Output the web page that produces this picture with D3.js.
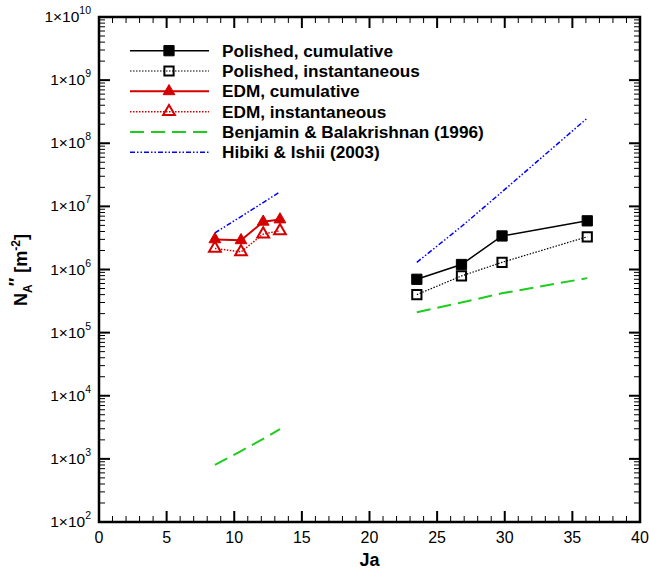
<!DOCTYPE html>
<html><head><meta charset="utf-8">
<script src="https://cdn.jsdelivr.net/npm/d3@7"></script>
<style>body{margin:0;background:#fff}svg{display:block}text{font-family:"Liberation Sans",Arial,sans-serif}</style>
</head><body>
<svg id="c" width="649" height="573"></svg>
<script>
// ---- data ----
const polishedJa = [23.5, 26.8, 29.8, 36.1];
const polishedCum = [7.0e5, 1.2e6, 3.4e6, 5.9e6];
const polishedInst = [4.0e5, 7.9e5, 1.3e6, 3.3e6];
const edmJa = [8.57, 10.5, 12.14, 13.38];
const edmCum = [3.0e6, 2.9e6, 5.7e6, 6.2e6];
const edmInst = [2.16e6, 1.9e6, 3.64e6, 4.1e6];
const benjaminLeft = [800, 1330, 2080, 2960];
const benjaminRight = [2.1e5, 3.0e5, 4.2e5, 7.3e5];
const hibikiLeft = [3.8e6, 6.9e6, 1.15e7, 1.7e7];
const hibikiRight = [1.3e6, 4.8e6, 1.7e7, 2.5e8];
const xTicks = [0, 5, 10, 15, 20, 25, 30, 35, 40];
const yExps = [2, 3, 4, 5, 6, 7, 8, 9, 10];
const legendLabels = ["Polished, cumulative", "Polished, instantaneous", "EDM, cumulative",
  "EDM, instantaneous", "Benjamin & Balakrishnan (1996)", "Hibiki & Ishii (2003)"];

const svg = d3.select("#c");
const L = 99, R = 640, T = 17, B = 522;
const x = d3.scaleLinear().domain([0, 40]).range([L, R]);
const y = d3.scaleLog().domain([1e2, 1e10]).range([B, T]);
const RED = "#d40000", GREEN = "#1fcc1f", BLUE = "#0000ff";

// ---- ticks ----
const tg = svg.append("g");
const minorX = d3.range(0, 41, 1).filter(v => v % 5 !== 0);
function tick(x1, y1, x2, y2, w) {
  tg.append("line").attr("x1", x1).attr("y1", y1).attr("x2", x2).attr("y2", y2)
    .attr("stroke", "#000").attr("stroke-width", w);
}
minorX.forEach(v => { tick(x(v), B, x(v), B - 6, 1); tick(x(v), T, x(v), T + 6, 1); });
xTicks.forEach(v => { tick(x(v), B, x(v), B - 11, 2); tick(x(v), T, x(v), T + 11, 2); });
const minorY = [];
for (let e = 2; e < 10; e++) for (let m = 2; m <= 9; m++) minorY.push(m * Math.pow(10, e));
minorY.forEach(v => { tick(L, y(v), L + 6, y(v), 1); tick(R, y(v), R - 6, y(v), 1); });
yExps.forEach(e => { const v = Math.pow(10, e); tick(L, y(v), L + 11, y(v), 2); tick(R, y(v), R - 11, y(v), 2); });

// frame
svg.append("rect").attr("x", L).attr("y", T).attr("width", R - L).attr("height", B - T)
  .attr("fill", "none").attr("stroke", "#000").attr("stroke-width", 2.5);

// tick labels
svg.append("g").selectAll("text").data(xTicks).join("text")
  .attr("x", d => x(d)).attr("y", 543).attr("text-anchor", "middle")
  .attr("font-size", 16).text(d => d);
const yl = svg.append("g").selectAll("text").data(yExps).join("text")
  .attr("x", 91).attr("y", d => y(Math.pow(10, d)) + 5).attr("text-anchor", "end").attr("font-size", 15.5);
yl.append("tspan").text("1×10");
yl.append("tspan").attr("font-size", 10.5).attr("dy", -8).text(d => d);

// axis titles
svg.append("text").attr("x", x(20)).attr("y", 566).attr("text-anchor", "middle")
  .attr("font-size", 18).attr("font-weight", "bold").text("Ja");
const yt = svg.append("text").attr("transform", "translate(27,270) rotate(-90)")
  .attr("text-anchor", "middle").attr("font-size", 18).attr("font-weight", "bold");
yt.append("tspan").text("N");
yt.append("tspan").attr("font-size", 12).attr("dy", 5).text("A");
yt.append("tspan").attr("dy", -10).attr("dx", -2).text("″");
yt.append("tspan").attr("dy", 5).text(" [m");
yt.append("tspan").attr("font-size", 12).attr("dy", -7).text("-2");
yt.append("tspan").attr("dy", 7).text("]");

// ---- series ----
const line = d3.line().x(d => x(d[0])).y(d => y(d[1]));
function drawLine(xs, ys, color, width, dash) {
  svg.append("path").datum(d3.zip(xs, ys)).attr("d", line).attr("fill", "none")
    .attr("stroke", color).attr("stroke-width", width).attr("stroke-dasharray", dash || null);
}
drawLine(edmJa, benjaminLeft, GREEN, 2, "14,7");
drawLine(polishedJa, benjaminRight, GREEN, 2, "14,7");
drawLine(edmJa, hibikiLeft, BLUE, 1.5, "5,2,1.5,2,1.5,2");
drawLine(polishedJa, hibikiRight, BLUE, 1.5, "5,2,1.5,2,1.5,2");
drawLine(polishedJa, polishedInst, "#000", 1.2, "1.5,1.5");
drawLine(polishedJa, polishedCum, "#000", 1.5);
drawLine(edmJa, edmInst, RED, 1.5, "1.5,1.5");
drawLine(edmJa, edmCum, RED, 2);

const sym = d3.symbol();
function markers(xs, ys, type, size, color, filled) {
  svg.append("g").selectAll("path").data(d3.zip(xs, ys)).join("path")
    .attr("transform", d => `translate(${x(d[0])},${y(d[1])})`)
    .attr("d", sym.type(type).size(size)())
    .attr("fill", filled ? color : "none").attr("stroke", color).attr("stroke-width", filled ? 1 : 2);
}
markers(polishedJa, polishedCum, d3.symbolSquare, 105, "#000", true);
markers(polishedJa, polishedInst, d3.symbolSquare, 85, "#000", false);
markers(edmJa, edmCum, d3.symbolTriangle, 60, RED, true);
markers(edmJa, edmInst, d3.symbolTriangle, 60, RED, false);

// ---- legend ----
const rowsY = [50.7, 71, 91.3, 111.7, 132, 152.3];
const lstyles = [
  {c: "#000", w: 1.5, d: null, m: d3.symbolSquare, ms: 105, f: true},
  {c: "#000", w: 1.2, d: "1.5,1.5", m: d3.symbolSquare, ms: 85, f: false},
  {c: RED, w: 2, d: null, m: d3.symbolTriangle, ms: 60, f: true},
  {c: RED, w: 1.5, d: "1.5,1.5", m: d3.symbolTriangle, ms: 60, f: false},
  {c: GREEN, w: 2, d: "14,7", m: null},
  {c: BLUE, w: 1.5, d: "5,2,1.5,2,1.5,2", m: null}
];
const lg = svg.append("g");
legendLabels.forEach((t, i) => {
  const s = lstyles[i], yy = rowsY[i];
  lg.append("line").attr("x1", 130).attr("x2", 209).attr("y1", yy).attr("y2", yy)
    .attr("stroke", s.c).attr("stroke-width", s.w).attr("stroke-dasharray", s.d);
  if (s.m) lg.append("path").attr("transform", `translate(169,${yy})`).attr("d", sym.type(s.m).size(s.ms)())
    .attr("fill", s.f ? s.c : "none").attr("stroke", s.c).attr("stroke-width", s.f ? 1 : 2);
  lg.append("text").attr("x", 222).attr("y", yy + 6).attr("font-size", 17.2).attr("font-weight", "bold").text(t);
});
</script>
</body></html>
